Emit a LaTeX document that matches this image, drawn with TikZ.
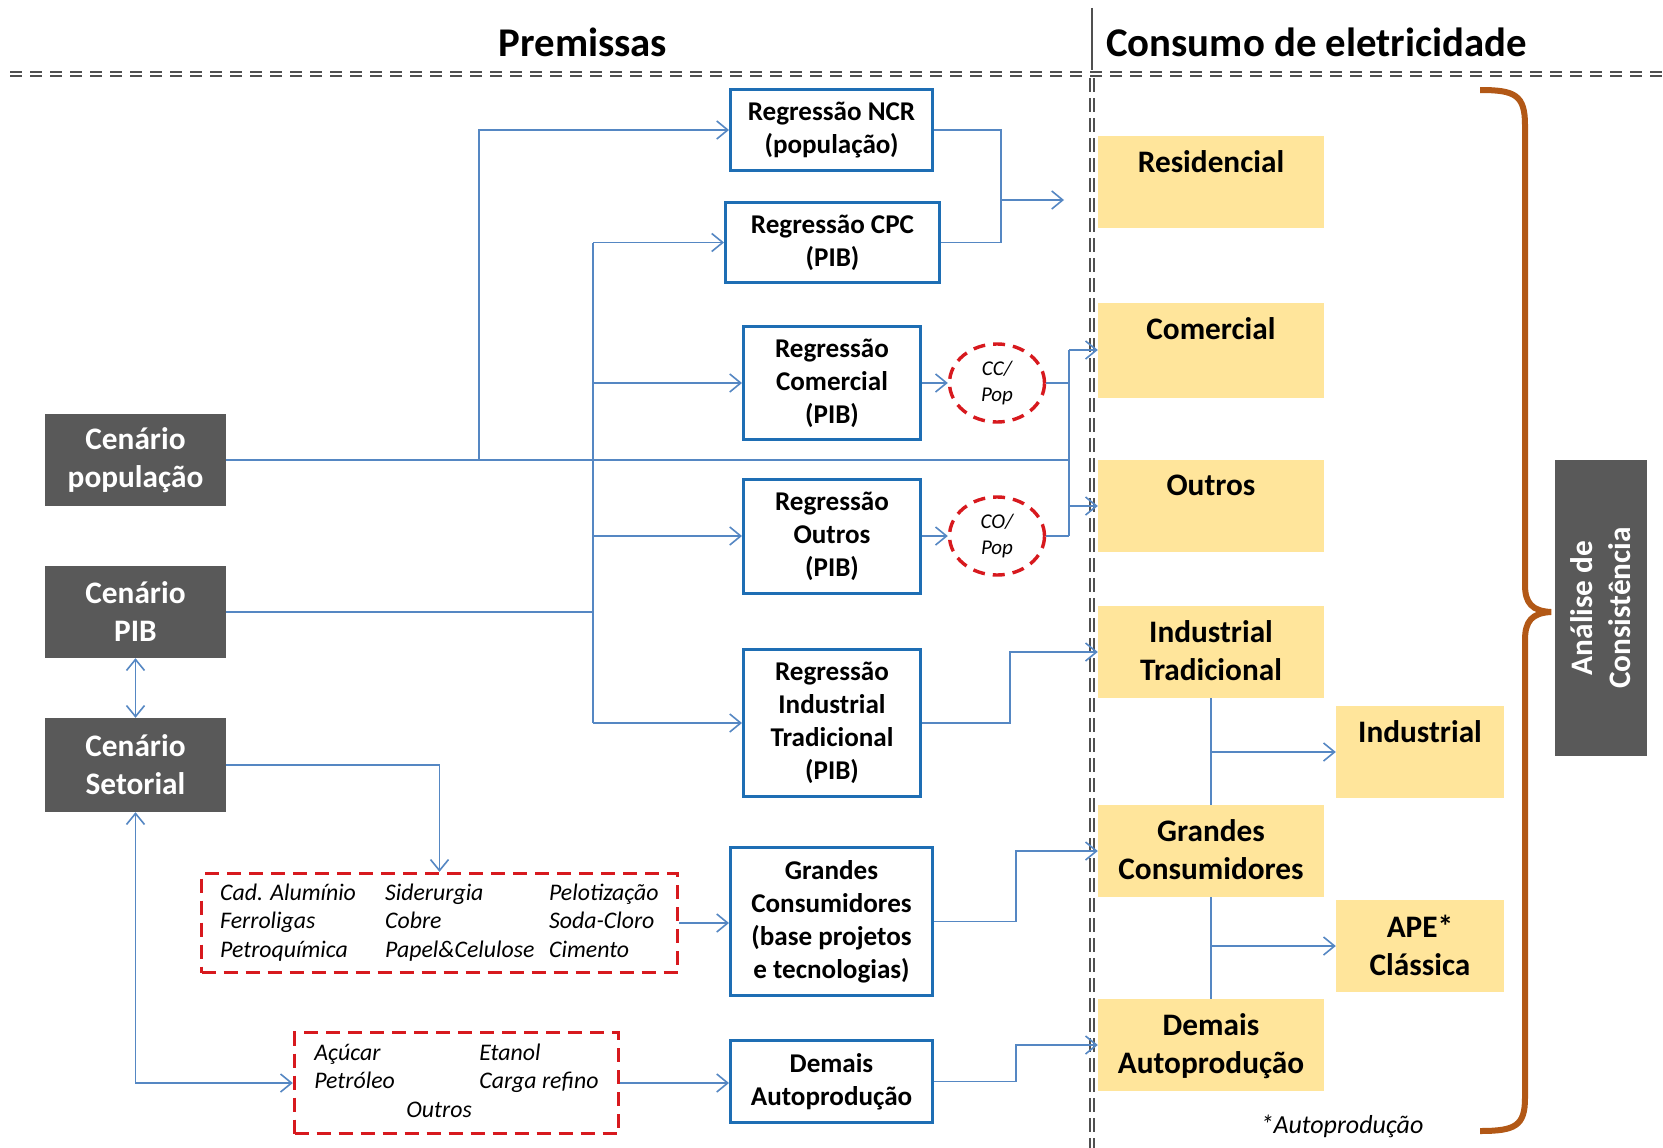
\documentclass[tikz,border=0pt]{standalone}
\usepackage{fontspec}
\setmainfont{Carlito}
\usetikzlibrary{arrows.meta,shapes.geometric}
\definecolor{kdark}{RGB}{89,89,89}
\definecolor{kblue}{RGB}{30,110,180}
\definecolor{kcon}{RGB}{85,135,195}
\definecolor{kred}{RGB}{215,25,30}
\definecolor{kyel}{RGB}{255,229,155}
\definecolor{kbrown}{RGB}{178,88,22}
\definecolor{kgray}{RGB}{80,80,80}
\tikzset{
  dbox/.style={fill=kdark,text=white,font=\kbig,align=center,minimum width=181,minimum height=92,inner sep=0},
  bbox/.style={draw=kblue,line width=3,fill=white,font=\kmid,align=center,inner sep=0},
  ybox/.style={fill=kyel,minimum width=226,minimum height=92,inner sep=0},
  ylbl/.style={anchor=north,yshift=-15,inner sep=0,font=\kbig,align=center},
  rell/.style={ellipse,draw=kred,line width=3.4,dash pattern=on 12pt off 8pt,minimum width=95,minimum height=78,inner sep=0,font=\ksmall,align=center},
  rlist/.style={draw=kred,line width=3.4,dash pattern=on 14pt off 8pt,inner sep=0,font=\klist},
  wire/.style={draw=kcon,line width=1.6},
  con/.style={wire,-{Straight Barb[length=11,width=18]}},
  con2/.style={wire,{Straight Barb[length=11,width=18]}-{Straight Barb[length=11,width=18]}},
  sep/.style={draw=kgray,line width=1.5,double=white,double distance=2.4},
  ttl/.style={font=\ktitle,inner sep=0}
}
\begin{document}
\begin{tikzpicture}[x=1pt,y=-1pt]
\def\ktitle{\fontsize{40.8}{48}\selectfont\bfseries}
\def\kbig{\fontsize{31.3}{38}\selectfont\bfseries}
\def\kmid{\fontsize{27.1}{33}\selectfont\bfseries}
\def\klist{\fontsize{23.8}{28.6}\selectfont\itshape}
\def\ksmall{\fontsize{21}{26}\selectfont\itshape}
\def\knote{\fontsize{26}{30}\selectfont\itshape}
\pgfmathsetmacro{\kdx}{135.5}
\pgfmathsetmacro{\kbx}{832}
\pgfmathsetmacro{\kyx}{1211}
\pgfmathsetmacro{\kix}{1420}
\fill[white](0,0)rectangle(1663,1148);
\useasboundingbox(0,0)rectangle(1663,1148);
\draw[kgray,line width=1.5](1092,8)--(1092,70);
\draw[sep,dash pattern=on 12pt off 8pt](10,74)--(1663,74);
\draw[sep,dash pattern=on 14pt off 6pt](1092,78)--(1092,1148);
\draw(583,42)node[ttl](tprem){Premissas};
\draw(1106,42)node[ttl,anchor=west](tcons){Consumo de eletricidade};
\draw(\kdx,460)node[dbox](popu){Cenário\\população};
\draw(\kdx,612)node[dbox](pib){Cenário\\PIB};
\draw(\kdx,765)node[dbox,minimum height=94](setor){Cenário\\Setorial};
\draw(831.5,130)node[bbox,minimum width=202,minimum height=81](ncr){Regressão NCR\\(população)};
\draw(832.5,242.5)node[bbox,minimum width=214,minimum height=80](cpc){Regressão CPC\\(PIB)};
\draw(\kbx,383)node[bbox,minimum width=177,minimum height=113](rcom){Regressão\\Comercial\\(PIB)};
\draw(\kbx,536)node[bbox,minimum width=177,minimum height=114](rout){Regressão\\Outros\\(PIB)};
\draw(\kbx,723)node[bbox,minimum width=177,minimum height=147](rind){Regressão\\Industrial\\Tradicional\\(PIB)};
\draw(831.5,921.5)node[bbox,minimum width=202,minimum height=148](rgc){Grandes\\Consumidores\\(base projetos\\e tecnologias)};
\draw(831.5,1081.5)node[bbox,minimum width=202,minimum height=82](rdem){Demais\\Autoprodução};
\draw(997,383)node[rell](cc){CC/\\Pop};
\draw(997,536)node[rell](co){CO/\\Pop};
\draw(439.5,923)node[rlist,minimum width=476,minimum height=99](lst1){\begin{tabular}{@{}p{165pt}@{}p{164pt}@{}l@{}}Cad. Alumínio&Siderurgia&Pelotização\\Ferroligas&Cobre&Soda-Cloro\\Petroquímica&Papel\&Celulose&Cimento\end{tabular}};
\draw(456.5,1083)node[rlist,minimum width=324,minimum height=101](lst2){\begin{tabular}{@{}p{165pt}@{}l@{}}Açúcar&Etanol\\Petróleo&Carga refino\\\multicolumn{2}{@{}l@{}}{\hspace{92pt}Outros}\end{tabular}};
\draw(\kyx,182)node[ybox,label={[ylbl]north:Residencial}](res){};
\draw(\kyx,350)node[ybox,minimum height=95,label={[ylbl]north:Comercial}](com){};
\draw(\kyx,506)node[ybox,label={[ylbl]north:Outros}](out){};
\draw(\kyx,652)node[ybox,label={[ylbl]north:Industrial\\Tradicional}](itr){};
\draw(\kyx,851)node[ybox,label={[ylbl]north:Grandes\\Consumidores}](gcy){};
\draw(\kyx,1045)node[ybox,label={[ylbl]north:Demais\\Autoprodução}](dem){};
\draw(\kix,752)node[ybox,minimum width=168,label={[ylbl]north:Industrial}](ind){};
\draw(\kix,946)node[ybox,minimum width=168,label={[ylbl]north:APE*\\Clássica}](ape){};
\draw(1601,608)node[dbox,rotate=90,minimum width=296,minimum height=92](anal){Análise de\\Consistência};
\draw(1342,1126)node[font=\knote](nota){*Autoprodução};
\draw[kbrown,line width=6](1480,90)..controls(1515,90)and(1525,95)..(1525,125)--(1525,585)..controls(1525,603)and(1532,611)..(1551,612)..controls(1532,613)and(1525,621)..(1525,640)--(1525,1098)..controls(1525,1126)and(1515,1131)..(1480,1131);
\coordinate(xpop)at(479,0);
\coordinate(xpib)at(593,0);
\coordinate(xbus)at(1069,0);
\coordinate(jres)at(1001,200);
\coordinate(eres)at(1064,200);
\coordinate(xind)at(1010,0);
\coordinate(xgc)at(1016,0);
\draw[wire](popu.east)--(popu.east-|xbus);
\draw[con](popu.east-|xpop)|-(ncr.west);
\draw[wire](pib.east)--(pib.east-|xpib);
\draw[wire](cpc.west-|xpib)--(rind.west-|xpib);
\foreach \n in {cpc,rcom,rout,rind}{\draw[con](\n.west-|xpib)--(\n.west);}
\draw[wire](ncr.east)-|(jres)|-(cpc.east);
\draw[con](jres)--(eres);
\draw[con](rcom)--(cc);
\draw[con](rout)--(co);
\draw[wire](cc.east)--(cc.east-|xbus);
\draw[wire](co.east)--(co.east-|xbus);
\draw[wire](com.west-|xbus)--(co.east-|xbus);
\draw[con](com.west-|xbus)--(com.west);
\draw[con](out.west-|xbus)--(out.west);
\draw[con](rind.east)-|(itr.west-|xind)--(itr.west);
\draw[con](rgc.east)-|(gcy.west-|xgc)--(gcy.west);
\draw[con](rdem.east)-|(dem.west-|xgc)--(dem.west);
\draw[con](setor.east)-|(lst1.north);
\draw[con](lst1.east)--(lst1.east-|rgc.west);
\draw[con2](pib.south)--(setor.north);
\draw[con2](setor.south)|-(lst2.west);
\draw[con](lst2.east)--(lst2.east-|rdem.west);
\draw[wire](itr.south)--(gcy.north);
\draw[con](itr.south|-ind.west)--(ind.west);
\draw[wire](gcy.south)--(dem.north);
\draw[con](gcy.south|-ape.west)--(ape.west);
\end{tikzpicture}
\end{document}
